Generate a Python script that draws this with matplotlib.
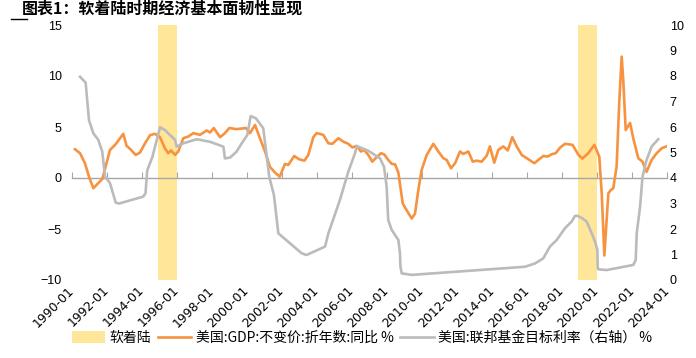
import matplotlib
matplotlib.use("Agg")
import matplotlib.pyplot as plt
from matplotlib.patches import Patch
from matplotlib.lines import Line2D

plt.rcParams['font.family'] = ['Liberation Sans', 'Noto Sans CJK SC', 'DejaVu Sans']

title = "图表1：软着陆时期经济基本面韧性显现"
band_label = "软着陆"
gdp_label = "美国:GDP:不变价:折年数:同比 %"
fed_label = "美国:联邦基金目标利率（右轴） %"

soft_landings = [(1994.9, 1996.0), (2018.9, 2020.0)]

tick_years = list(range(1990, 2025, 2))
tick_labels = [f"{y}-01" for y in tick_years]

gdp_t = [1990.17, 1990.46, 1990.74, 1990.97, 1991.22, 1991.5, 1991.73, 1991.92,
         1992.17, 1992.46, 1992.65, 1992.93, 1993.12, 1993.35, 1993.64, 1993.89,
         1994.17, 1994.46, 1994.74, 1995.03, 1995.31, 1995.5, 1995.66, 1995.89,
         1996.07, 1996.36, 1996.65, 1996.93, 1997.31, 1997.7, 1997.89, 1998.1,
         1998.46, 1998.74, 1998.99, 1999.4, 1999.94, 2000.17, 2000.46, 2000.7,
         2001.03, 2001.31, 2001.6, 2001.87, 2002.17, 2002.36, 2002.7, 2002.97,
         2003.28, 2003.5, 2003.79, 2003.98, 2004.36, 2004.65, 2004.88, 2005.22,
         2005.5, 2005.79, 2006.02, 2006.27, 2006.51, 2006.7, 2006.93, 2007.16,
         2007.35, 2007.66, 2007.85, 2008.07, 2008.27, 2008.46, 2008.65, 2008.9,
         2009.12, 2009.41, 2009.6, 2009.79, 2009.98, 2010.27, 2010.65, 2010.93,
         2011.22, 2011.41, 2011.66, 2011.89, 2012.17, 2012.36, 2012.65, 2012.9,
         2013.12, 2013.41, 2013.7, 2013.88, 2014.13, 2014.36, 2014.65, 2014.9,
         2015.16, 2015.41, 2015.7, 2016.07, 2016.42, 2016.65, 2016.93, 2017.18,
         2017.41, 2017.64, 2017.89, 2018.17, 2018.6, 2018.93, 2019.16, 2019.5,
         2019.85, 2020.13, 2020.27, 2020.42, 2020.65, 2020.78, 2020.93, 2021.12,
         2021.27, 2021.41, 2021.5, 2021.64, 2021.89, 2022.07, 2022.36, 2022.6,
         2022.83, 2023.12, 2023.41, 2023.7, 2023.97]
gdp_v = [2.82, 2.43, 1.45, 0.13, -1.0, -0.5, -0.1, 1.1,
         2.75, 3.25, 3.67, 4.33, 3.15, 2.8, 2.26, 2.5,
         3.4, 4.2, 4.33, 4.0, 2.9, 2.43, 2.7, 2.26,
         2.6, 3.9, 4.07, 4.4, 4.23, 4.66, 4.46, 4.9,
         4.0, 4.4, 4.9, 4.79, 4.9, 4.4, 5.2, 4.07,
         2.6, 1.1, 0.53, 0.13, 1.38, 1.28, 2.16, 1.84,
         1.7, 2.26, 4.0, 4.4, 4.23, 3.4, 3.35, 3.9,
         3.57, 3.35, 3.0, 3.15, 2.6, 2.75, 2.26, 1.6,
         1.94, 2.43, 2.3, 1.77, 1.38, 1.35, 0.52, -2.5,
         -3.15, -3.97, -3.5, -1.18, 0.8, 2.26, 3.35, 2.6,
         1.94, 1.77, 0.95, 1.45, 2.6, 2.36, 2.6, 1.6,
         1.7, 1.6, 2.2, 3.1, 1.5, 2.75, 3.1, 2.7,
         4.0, 3.1, 2.26, 1.84, 1.45, 1.77, 2.16, 2.1,
         2.33, 2.43, 2.98, 3.35, 3.25, 2.3, 1.9, 2.43,
         3.25, 2.1, -1.5, -7.6, -1.5, -1.2, -1.0, 1.1,
         7.35, 11.9, 9.6, 4.7, 5.4, 3.9, 1.94, 1.6,
         0.6, 1.77, 2.43, 2.92, 3.1]

fed_t = [1990.46, 1990.78, 1990.97, 1991.22, 1991.5, 1991.73, 1991.89, 1992.17,
         1992.5, 1992.7, 1994.07, 1994.2, 1994.3, 1994.6, 1995.03, 1995.31,
         1995.7, 1995.89, 1995.98, 1996.36, 1997.12, 1997.89, 1998.65, 1998.74,
         1999.03, 1999.4, 1999.7, 2000.02, 2000.21, 2000.51, 2000.93, 2001.27,
         2001.54, 2001.79, 2003.12, 2003.4, 2004.46, 2004.65, 2005.31, 2005.79,
         2006.17, 2006.27, 2006.93, 2007.6, 2007.83, 2007.98, 2008.07, 2008.27,
         2008.65, 2008.74, 2008.77, 2008.84, 2009.4, 2013.89, 2015.89, 2016.46,
         2016.93, 2017.31, 2017.7, 2018.17, 2018.55, 2018.74, 2018.87, 2019.16,
         2019.41, 2019.7, 2019.89, 2020.02, 2020.04, 2020.07, 2020.55, 2022.07,
         2022.21, 2022.27, 2022.46, 2022.6, 2022.83, 2023.12, 2023.5]
fed_v = [7.97, 7.74, 6.27, 5.75, 5.5, 5.03, 4.05, 3.8,
         3.03, 3.0, 3.27, 3.4, 4.3, 4.84, 5.99, 5.88,
         5.62, 5.49, 5.23, 5.36, 5.52, 5.42, 5.23, 4.77,
         4.8, 5.03, 5.36, 5.69, 6.43, 6.34, 5.95, 4.05,
         3.33, 1.83, 1.05, 0.98, 1.31, 1.83, 3.14, 4.25,
         4.97, 5.25, 5.07, 4.77, 4.44, 3.66, 2.35, 1.96,
         1.57, 1.05, 0.52, 0.26, 0.2, 0.42, 0.52, 0.65,
         0.85, 1.31, 1.57, 2.03, 2.29, 2.51, 2.52, 2.42,
         2.29, 1.83, 1.5, 1.18, 0.52, 0.42, 0.39, 0.59,
         0.78, 1.83, 2.87, 4.05, 4.7, 5.23, 5.52]

orange = '#F7923F'
gray = '#BBBBBB'
band_color = '#FFE699'
cjk = ['Noto Sans CJK SC', 'DejaVu Sans']

fig = plt.figure(figsize=(6.96, 3.58), dpi=100)
ax = fig.add_axes([72/696, 1-280/358, (667-72)/696, 255/358])
ax2 = ax.twinx()

for a, b in soft_landings:
    ax.axvspan(a, b, color=band_color, lw=0, zorder=0)

ax.plot(gdp_t, gdp_v, color=orange, lw=1.9, zorder=3, solid_joinstyle='round')
ax2.plot(fed_t, fed_v, color=gray, lw=1.9, zorder=2, solid_joinstyle='round')

ax.set_xlim(1990, 2024)
ax.set_ylim(-10, 15)
ax.set_yticks([-10, -5, 0, 5, 10, 15])
ax2.set_ylim(0, 10)
ax2.set_yticks(range(0, 11))

for a in (ax, ax2):
    for s in a.spines.values():
        s.set_visible(False)

ax.set_xticks(tick_years)
ax.set_xticklabels(tick_labels, rotation=45, ha='right', va='center',
                   rotation_mode='anchor', fontsize=9, family='DejaVu Sans')
ax.tick_params(axis='x', length=0, pad=6)
ax.tick_params(axis='y', length=0, pad=7.5, labelsize=9)
ax2.tick_params(axis='y', length=0, pad=2, labelsize=9)

# zero line with upward ticks
sec = ax.secondary_xaxis(0.4)
sec.set_xticks(tick_years)
sec.xaxis.set_ticks_position('bottom')
sec.tick_params(axis='x', direction='in', length=4, width=0.8, color='#A6A6A6',
                labelbottom=False, labeltop=False)
for k, s in sec.spines.items():
    s.set_visible(k == 'bottom')
sec.spines['bottom'].set_color('#A6A6A6')
sec.spines['bottom'].set_linewidth(1.0)

# Title
fig.text(22/696, 1-9/358, title, fontsize=11.5, fontweight='bold',
         family=cjk, va='center', ha='left')
fig.add_artist(Line2D([11/696, 27/696], [1-19/358, 1-19/358], color='black', lw=1.0))

handles = [Patch(facecolor=band_color, edgecolor='none'),
           Line2D([], [], color=orange, lw=1.9),
           Line2D([], [], color=gray, lw=1.9)]
fig.legend(handles, [band_label, gdp_label, fed_label], loc='center',
           bbox_to_anchor=(362/696, 1-338/358), ncol=3, frameon=False,
           prop={'family': cjk, 'size': 10}, handlelength=2.4,
           handleheight=0.9, columnspacing=0.5, handletextpad=0.3)

fig.savefig('out.png', dpi=100)
